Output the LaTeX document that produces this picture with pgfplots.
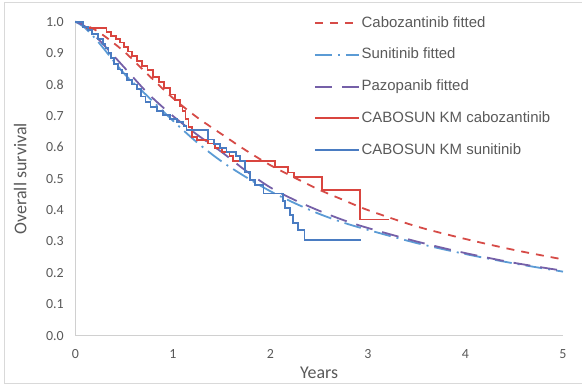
\documentclass[border=0pt]{standalone}
\usepackage{fontspec}
\setmainfont{Carlito}
\newfontfamily\legfont{Liberation Sans}
\usepackage{pgfplots}
\pgfplotsset{compat=1.18}
\definecolor{kmred}{HTML}{D9453F}
\definecolor{fitred}{HTML}{D64B47}
\definecolor{kmblue}{HTML}{4A7CC2}
\definecolor{fitblue}{HTML}{5B9BD5}
\definecolor{fitpurple}{HTML}{7560A8}
\definecolor{tickgray}{HTML}{595959}
\definecolor{axisgray}{HTML}{D0D0D0}
\definecolor{bordergray}{HTML}{D9D9D9}

\pgfplotstableread{
t S
0 1
0.08 0.985
0.12 0.979
0.32 0.968
0.37 0.955
0.42 0.945
0.46 0.934
0.50 0.92
0.54 0.905
0.58 0.89
0.63 0.874
0.68 0.86
0.74 0.845
0.80 0.825
0.86 0.808
0.91 0.79
0.97 0.768
1.02 0.75
1.07 0.73
1.10 0.715
1.13 0.69
1.16 0.665
1.20 0.634
1.25 0.623
1.36 0.612
1.43 0.597
1.50 0.586
1.58 0.572
1.62 0.557
2.05 0.538
2.18 0.52
2.24 0.505
2.53 0.464
2.92 0.37
3.22 0.37
}\kmcabo

\pgfplotstableread{
t S
0 1
0.08 0.984
0.13 0.973
0.17 0.962
0.23 0.946
0.28 0.93
0.31 0.915
0.34 0.9
0.37 0.885
0.40 0.865
0.44 0.848
0.48 0.835
0.53 0.815
0.58 0.80
0.63 0.785
0.67 0.762
0.72 0.745
0.77 0.729
0.84 0.715
0.90 0.703
0.97 0.69
1.04 0.68
1.11 0.668
1.14 0.655
1.36 0.625
1.42 0.61
1.48 0.598
1.55 0.586
1.65 0.572
1.69 0.556
1.74 0.522
1.79 0.496
1.84 0.48
1.93 0.453
2.13 0.43
2.15 0.406
2.20 0.384
2.23 0.358
2.28 0.337
2.35 0.305
2.93 0.305
}\kmsuni

\pgfplotstableread{
t S
0 1
0.1 0.99
0.25 0.965
0.5 0.905
0.75 0.83
1 0.757
1.25 0.695
1.5 0.642
1.75 0.59
2 0.543
2.25 0.503
2.5 0.465
2.75 0.432
3 0.40
3.5 0.348
4 0.308
4.5 0.273
5 0.243
}\fitcabo

\pgfplotstableread{
t S
0 1
0.1 0.98
0.25 0.93
0.5 0.835
0.75 0.76
1 0.685
1.25 0.615
1.5 0.555
1.75 0.505
2 0.46
2.25 0.422
2.5 0.388
2.75 0.36
3 0.337
3.5 0.295
4 0.26
4.5 0.23
5 0.204
}\fitsuni

\pgfplotstableread{
t S
0 1
0.1 0.985
0.25 0.94
0.5 0.855
0.75 0.77
1 0.70
1.25 0.64
1.5 0.585
1.75 0.525
2 0.472
2.25 0.432
2.5 0.398
2.75 0.368
3 0.343
3.5 0.30
4 0.263
4.5 0.232
5 0.207
}\fitpazo

\begin{document}
\begin{tikzpicture}[x=1bp,y=1bp]
\useasboundingbox (0,0) rectangle (582,385);
\draw[bordergray, line width=1bp] (582,382.3) -- (4,382.3) -- (4,2) -- (582,2);
\begin{axis}[
  at={(75.3bp,49.3bp)}, anchor=south west,
  scale only axis, width=487.7bp, height=314bp,
  xmin=0, xmax=5, ymin=0, ymax=1,
  axis x line*=bottom, axis y line*=left,
  axis line style={draw=axisgray, line width=1bp, -},
  major tick length=0pt,
  xtick={0,1,2,3,4,5},
  ytick={0,0.1,0.2,0.3,0.4,0.5,0.6,0.7,0.8,0.9,1.0},
  /pgf/number format/assume math mode=true,
  yticklabel style={/pgf/number format/.cd, fixed, fixed zerofill, precision=1, /tikz/.cd,
     font=\fontsize{14}{16}\selectfont, text=tickgray, xshift=-8bp},
  xticklabel style={font=\fontsize{14}{16}\selectfont, text=tickgray, yshift=-10bp},
  xlabel={Years}, ylabel={Overall survival},
  xlabel style={at={(axis description cs:0.5,-0.119)}, anchor=center,
     font=\fontsize{18}{20}\selectfont, text=tickgray},
  ylabel style={at={(axis description cs:-0.113,0.5)}, anchor=center,
     font=\fontsize{18}{20}\selectfont, text=tickgray},
  legend cell align=left,
  legend image code/.code={\draw[#1, mark=none] (0bp,0bp) -- (44bp,0bp);},
  legend style={draw=none, fill=none, inner sep=0pt, outer sep=0pt,
     at={(axis cs:2.446,1.0236)}, anchor=north west,
     font=\legfont\fontsize{15}{17}\selectfont, text=tickgray,
     row sep=13.7bp,
     nodes={inner sep=2bp, text height=11bp, text depth=3bp}},
  clip=false,
]
\addplot[fitred, line width=1.8bp, dash pattern=on 8bp off 7bp, smooth] table[x=t,y=S] {\fitcabo};
\addlegendentry{Cabozantinib fitted}
\addplot[fitblue, line width=1.8bp, dash pattern=on 17bp off 6bp on 2bp off 6bp, smooth] table[x=t,y=S] {\fitsuni};
\addlegendentry{Sunitinib fitted}
\addplot[fitpurple, line width=1.8bp, dash pattern=on 17bp off 10bp, smooth] table[x=t,y=S] {\fitpazo};
\addlegendentry{Pazopanib fitted}
\addplot[kmred, line width=1.8bp, const plot] table[x=t,y=S] {\kmcabo};
\addlegendentry{CABOSUN KM cabozantinib}
\addplot[kmblue, line width=1.8bp, const plot] table[x=t,y=S] {\kmsuni};
\addlegendentry{CABOSUN KM sunitinib}
\end{axis}
\end{tikzpicture}
\end{document}
